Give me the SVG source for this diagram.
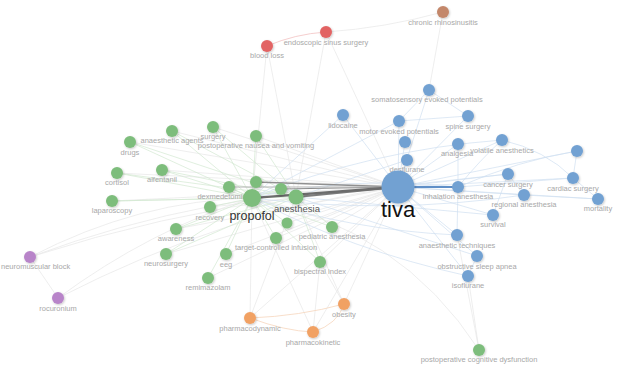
<svg xmlns="http://www.w3.org/2000/svg" width="620" height="367" viewBox="0 0 620 367">
<style>
text{font-family:"Liberation Sans",Arial,sans-serif;text-anchor:middle}
.l{font-size:7.5px;fill:#a8a8a8}
.g{fill:#7dbd7b}.b{fill:#72a1d2}.o{fill:#f1a164}.p{fill:#b884c9}.r{fill:#e26464}.c{fill:#c3876a}
.n{filter:url(#sh)}
.eg{stroke:#d3e8d1;stroke-width:.7;fill:none}
.eb{stroke:#d0dff0;stroke-width:.7;fill:none}
.ey{stroke:#e6e6e6;stroke-width:.7;fill:none}
.eo{stroke:#f6d6bd;stroke-width:.8;fill:none}
.er{stroke:#f3c2c2;stroke-width:.8;fill:none}
</style>
<defs>
<filter id="sh" x="-50%" y="-50%" width="200%" height="200%">
<feDropShadow dx="0.8" dy="1" stdDeviation="0.9" flood-color="#000" flood-opacity="0.22"/>
</filter>
</defs>
<rect width="620" height="367" fill="#fff"/>
<g id="connectors">
<g class="ey">
<line x1="398" y1="187" x2="130" y2="142"/><line x1="398" y1="187" x2="172" y2="131"/><line x1="398" y1="187" x2="213" y2="127"/><line x1="398" y1="187" x2="256" y2="136"/><line x1="398" y1="187" x2="162" y2="170"/><line x1="398" y1="187" x2="112" y2="201"/><line x1="398" y1="187" x2="117" y2="173"/><line x1="398" y1="187" x2="210" y2="207"/><line x1="398" y1="187" x2="287" y2="223"/><line x1="398" y1="187" x2="332" y2="227"/><line x1="398" y1="187" x2="276" y2="238"/><line x1="398" y1="187" x2="226" y2="254"/><line x1="398" y1="187" x2="320" y2="262"/><line x1="398" y1="187" x2="208" y2="278"/><line x1="398" y1="187" x2="176" y2="229"/><line x1="398" y1="187" x2="166" y2="254"/>
<line x1="267" y1="46" x2="252" y2="198"/><line x1="267" y1="46" x2="296" y2="197"/><line x1="326" y1="32" x2="398" y2="187"/><line x1="326" y1="32" x2="296" y2="197"/><line x1="443" y1="12" x2="429" y2="90"/>
<path d="M30,257 Q140,200 252,198"/><path d="M30,257 Q210,190 398,187"/><path d="M30,257 Q160,215 296,197"/><line x1="30" y1="257" x2="58" y2="298"/><path d="M58,298 Q150,230 252,198"/><path d="M58,298 Q230,210 398,187"/>
<line x1="250" y1="318" x2="252" y2="198"/><line x1="250" y1="318" x2="398" y2="187"/><line x1="250" y1="318" x2="296" y2="197"/><line x1="313" y1="332" x2="252" y2="198"/><line x1="313" y1="332" x2="398" y2="187"/><line x1="313" y1="332" x2="320" y2="262"/><line x1="344" y1="304" x2="398" y2="187"/><line x1="344" y1="304" x2="296" y2="197"/><line x1="344" y1="304" x2="320" y2="262"/>
<line x1="479" y1="350" x2="468" y2="276"/><line x1="479" y1="350" x2="457" y2="235"/><path d="M252,198 Q400,228 479,350"/>
</g>
<g class="eg">
<line x1="252" y1="198" x2="130" y2="142"/><line x1="252" y1="198" x2="172" y2="131"/><line x1="252" y1="198" x2="213" y2="127"/><line x1="252" y1="198" x2="256" y2="136"/><line x1="252" y1="198" x2="117" y2="173"/><line x1="252" y1="198" x2="162" y2="170"/><line x1="252" y1="198" x2="112" y2="201"/><line x1="252" y1="198" x2="229" y2="187"/><line x1="252" y1="198" x2="210" y2="207"/><line x1="252" y1="198" x2="256" y2="182"/><line x1="252" y1="198" x2="281" y2="189"/><line x1="252" y1="198" x2="287" y2="223"/><line x1="252" y1="198" x2="332" y2="227"/><line x1="252" y1="198" x2="276" y2="238"/><line x1="252" y1="198" x2="226" y2="254"/><line x1="252" y1="198" x2="320" y2="262"/><line x1="252" y1="198" x2="208" y2="278"/><line x1="252" y1="198" x2="176" y2="229"/><line x1="252" y1="198" x2="166" y2="254"/>
<line x1="296" y1="197" x2="130" y2="142"/><line x1="296" y1="197" x2="172" y2="131"/><line x1="296" y1="197" x2="256" y2="136"/><line x1="296" y1="197" x2="117" y2="173"/><line x1="296" y1="197" x2="112" y2="201"/><line x1="296" y1="197" x2="176" y2="229"/><line x1="296" y1="197" x2="320" y2="262"/><line x1="296" y1="197" x2="332" y2="227"/><line x1="296" y1="197" x2="162" y2="170"/><line x1="296" y1="197" x2="213" y2="127"/><line x1="296" y1="197" x2="166" y2="254"/>
</g>
<g class="eb">
<line x1="398" y1="187" x2="343" y2="115"/><line x1="398" y1="187" x2="399" y2="121"/><line x1="398" y1="187" x2="405" y2="142"/><line x1="398" y1="187" x2="407" y2="160"/><line x1="398" y1="187" x2="429" y2="90"/><line x1="398" y1="187" x2="468" y2="116"/><line x1="398" y1="187" x2="458" y2="144"/><line x1="398" y1="187" x2="502" y2="140"/><line x1="398" y1="187" x2="577" y2="151"/><line x1="398" y1="187" x2="508" y2="174"/><line x1="398" y1="187" x2="573" y2="178"/><line x1="398" y1="187" x2="524" y2="195"/><line x1="398" y1="187" x2="598" y2="199"/><line x1="398" y1="187" x2="493" y2="215"/><line x1="398" y1="187" x2="457" y2="235"/><line x1="398" y1="187" x2="477" y2="256"/><line x1="398" y1="187" x2="468" y2="276"/>
<line x1="429" y1="90" x2="399" y2="121"/><line x1="399" y1="121" x2="468" y2="116"/><line x1="429" y1="90" x2="468" y2="116"/><path d="M502,140 Q480,160 458,187"/><path d="M502,140 Q545,150 573,178"/><line x1="508" y1="174" x2="524" y2="195"/><line x1="573" y1="178" x2="598" y2="199"/><line x1="577" y1="151" x2="573" y2="178"/><path d="M577,151 Q520,160 458,187"/><line x1="573" y1="178" x2="458" y2="187"/><line x1="524" y1="195" x2="598" y2="199"/><line x1="493" y1="215" x2="508" y2="174"/><line x1="457" y1="235" x2="458" y2="187"/><line x1="477" y1="256" x2="468" y2="276"/><line x1="458" y1="144" x2="458" y2="187"/>
<line x1="343" y1="115" x2="252" y2="198"/><line x1="399" y1="121" x2="252" y2="198"/><line x1="407" y1="160" x2="296" y2="197"/><path d="M458,187 Q350,175 252,198"/><path d="M502,140 Q370,150 252,198"/><line x1="508" y1="174" x2="296" y2="197"/><path d="M524,195 Q390,215 252,198"/><path d="M457,235 Q350,230 252,198"/><line x1="477" y1="256" x2="296" y2="197"/><path d="M468,276 Q350,250 252,198"/><line x1="493" y1="215" x2="296" y2="197"/>
</g>
<g class="er"><path d="M267,46 Q295,34 326,32"/></g>
<g class="ey"><path d="M326,32 Q385,28 443,12"/></g>
<g class="eo"><path d="M250,318 Q300,316 344,304"/><path d="M250,318 Q285,331 313,332"/><path d="M313,332 Q338,324 344,304"/></g>
<line x1="256" y1="182" x2="398" y2="187" stroke="#909090" stroke-width="1.3"/>
<line x1="281" y1="189" x2="398" y2="187" stroke="#8e8e8e" stroke-width="1.1"/>
<line x1="229" y1="187" x2="398" y2="187" stroke="#aaa" stroke-width="0.9"/>
<line x1="296" y1="197" x2="398" y2="187" stroke="#7c7c7c" stroke-width="1.8"/>
<line x1="252" y1="198" x2="398" y2="187" stroke="#6c6c6c" stroke-width="2.4"/>
<line x1="398" y1="187" x2="458" y2="187" stroke="#5f8fc8" stroke-width="1.9"/>
</g>
<g id="n-drugs"><circle class="n g" cx="130" cy="142" r="6"/><text class="l" x="130" y="155">drugs</text></g>
<g id="n-anaesthetic-agents"><circle class="n g" cx="172" cy="131" r="6"/><text class="l" x="172" y="143">anaesthetic agents</text></g>
<g id="n-surgery"><circle class="n g" cx="213" cy="127" r="6"/><text class="l" x="213" y="139">surgery</text></g>
<g id="n-ponv"><circle class="n g" cx="256" cy="136" r="6"/><text class="l" x="256" y="148">postoperative nausea and vomiting</text></g>
<g id="n-cortisol"><circle class="n g" cx="117" cy="173" r="6"/><text class="l" x="117" y="185">cortisol</text></g>
<g id="n-alfentanil"><circle class="n g" cx="162" cy="170" r="6"/><text class="l" x="162" y="182">alfentanil</text></g>
<g id="n-laparoscopy"><circle class="n g" cx="112" cy="201" r="6"/><text class="l" x="112" y="213">laparoscopy</text></g>
<g id="n-dexmedetomidine"><circle class="n g" cx="229" cy="187" r="6"/><text class="l" x="227" y="199">dexmedetomidine</text></g>
<g id="n-recovery"><circle class="n g" cx="210" cy="207" r="6"/><text class="l" x="210" y="220">recovery</text></g>
<g id="n-g11"><circle class="n g" cx="256" cy="182" r="6"/></g>
<g id="n-g12"><circle class="n g" cx="281" cy="189" r="6"/></g>
<g id="n-g14"><circle class="n g" cx="287" cy="223" r="5.5"/></g>
<g id="n-pediatric-anesthesia"><circle class="n g" cx="332" cy="227" r="6"/><text class="l" x="332" y="239">pediatric anesthesia</text></g>
<g id="n-target-controlled-infusion"><circle class="n g" cx="276" cy="238" r="6"/><text class="l" x="276" y="250">target-controlled infusion</text></g>
<g id="n-eeg"><circle class="n g" cx="226" cy="254" r="6"/><text class="l" x="226" y="267">eeg</text></g>
<g id="n-bispectral-index"><circle class="n g" cx="320" cy="262" r="6"/><text class="l" x="320" y="274">bispectral index</text></g>
<g id="n-remimazolam"><circle class="n g" cx="208" cy="278" r="6"/><text class="l" x="208" y="290">remimazolam</text></g>
<g id="n-awareness"><circle class="n g" cx="176" cy="229" r="6"/><text class="l" x="176" y="241">awareness</text></g>
<g id="n-neurosurgery"><circle class="n g" cx="166" cy="254" r="6"/><text class="l" x="166" y="266">neurosurgery</text></g>
<g id="n-pocd"><circle class="n g" cx="479" cy="350" r="6"/><text class="l" x="479" y="362">postoperative cognitive dysfunction</text></g>
<g id="n-propofol"><circle class="n g" cx="252" cy="198" r="9"/><text x="252" y="220" font-size="12.5" fill="#333">propofol</text></g>
<g id="n-anesthesia"><circle class="n g" cx="296" cy="197" r="7.5"/><text x="297" y="212" font-size="9.5" fill="#555">anesthesia</text></g>
<g id="n-lidocaine"><circle class="n b" cx="343" cy="115" r="6"/><text class="l" x="343" y="128">lidocaine</text></g>
<g id="n-motor-evoked-potentials"><circle class="n b" cx="399" cy="121" r="6"/><text class="l" x="399" y="134">motor evoked potentials</text></g>
<g id="n-b4"><circle class="n b" cx="405" cy="142" r="6"/></g>
<g id="n-desflurane"><circle class="n b" cx="407" cy="160" r="6"/><text class="l" x="407" y="172">desflurane</text></g>
<g id="n-somatosensory"><circle class="n b" cx="429" cy="90" r="6"/><text class="l" x="427" y="102">somatosensory evoked potentials</text></g>
<g id="n-spine-surgery"><circle class="n b" cx="468" cy="116" r="6"/><text class="l" x="468" y="129">spine surgery</text></g>
<g id="n-analgesia"><circle class="n b" cx="458" cy="144" r="6"/><text class="l" x="457" y="156">analgesia</text></g>
<g id="n-volatile-anesthetics"><circle class="n b" cx="502" cy="140" r="6"/><text class="l" x="502" y="153">volatile anesthetics</text></g>
<g id="n-b10"><circle class="n b" cx="577" cy="151" r="6"/></g>
<g id="n-cancer-surgery"><circle class="n b" cx="508" cy="174" r="6"/><text class="l" x="508" y="187">cancer surgery</text></g>
<g id="n-inhalation-anesthesia"><circle class="n b" cx="458" cy="187" r="6"/><text class="l" x="458" y="199">inhalation anesthesia</text></g>
<g id="n-cardiac-surgery"><circle class="n b" cx="573" cy="178" r="6"/><text class="l" x="573" y="191">cardiac surgery</text></g>
<g id="n-regional-anesthesia"><circle class="n b" cx="524" cy="195" r="6"/><text class="l" x="524" y="207">regional anesthesia</text></g>
<g id="n-mortality"><circle class="n b" cx="598" cy="199" r="6"/><text class="l" x="598" y="211">mortality</text></g>
<g id="n-survival"><circle class="n b" cx="493" cy="215" r="6"/><text class="l" x="493" y="227">survival</text></g>
<g id="n-anaesthetic-techniques"><circle class="n b" cx="457" cy="235" r="6"/><text class="l" x="457" y="248">anaesthetic techniques</text></g>
<g id="n-osa"><circle class="n b" cx="477" cy="256" r="6"/><text class="l" x="477" y="269">obstructive sleep apnea</text></g>
<g id="n-isoflurane"><circle class="n b" cx="468" cy="276" r="6"/><text class="l" x="468" y="288">isoflurane</text></g>
<g id="n-tiva"><circle class="n b" cx="398" cy="187" r="16.5"/><text x="398" y="217" font-size="22" fill="#111">tiva</text></g>
<g id="n-obesity"><circle class="n o" cx="344" cy="304" r="6"/><text class="l" x="344" y="317">obesity</text></g>
<g id="n-pharmacodynamic"><circle class="n o" cx="250" cy="318" r="6"/><text class="l" x="250" y="331">pharmacodynamic</text></g>
<g id="n-pharmacokinetic"><circle class="n o" cx="313" cy="332" r="6"/><text class="l" x="313" y="345">pharmacokinetic</text></g>
<g id="n-neuromuscular-block"><circle class="n p" cx="30" cy="257" r="6"/><text class="l" x="1" y="269" style="text-anchor:start">neuromuscular block</text></g>
<g id="n-rocuronium"><circle class="n p" cx="58" cy="298" r="6"/><text class="l" x="58" y="311">rocuronium</text></g>
<g id="n-blood-loss"><circle class="n r" cx="267" cy="46" r="6"/><text class="l" x="267" y="58">blood loss</text></g>
<g id="n-endoscopic-sinus-surgery"><circle class="n r" cx="326" cy="32" r="6"/><text class="l" x="326" y="45">endoscopic sinus surgery</text></g>
<g id="n-chronic-rhinosinusitis"><circle class="n c" cx="443" cy="12" r="6"/><text class="l" x="443" y="25">chronic rhinosinusitis</text></g>
</svg>
